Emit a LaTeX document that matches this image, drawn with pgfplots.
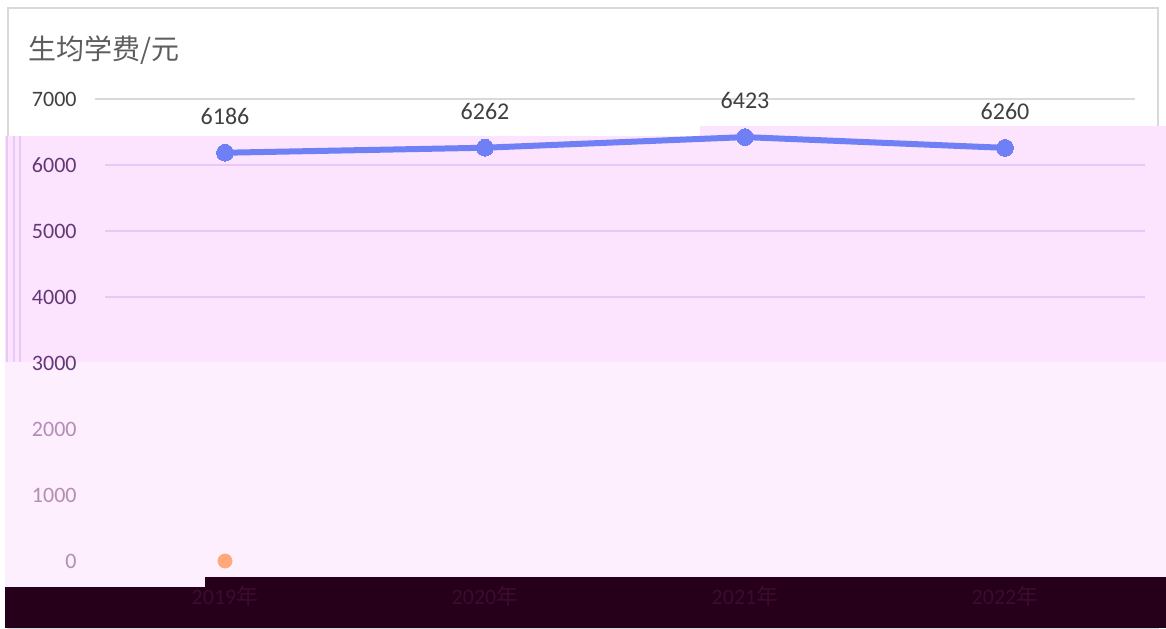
\documentclass[border=0pt]{standalone}
\usepackage{pgfplots}
\pgfplotsset{compat=1.18}
\usepackage{fontspec}
\setmainfont{Carlito}
\newfontfamily\cjk{Noto Sans CJK SC}
\definecolor{lineblue}{RGB}{111,127,245}
\definecolor{dotorange}{RGB}{255,169,122}
\definecolor{pinkA}{RGB}{253,228,254}
\definecolor{pinkB}{RGB}{253,239,253}
\definecolor{darkband}{RGB}{38,0,26}
\definecolor{gridgray}{RGB}{217,217,217}
\definecolor{gridpurple}{RGB}{233,200,247}
\definecolor{txtgray}{RGB}{64,64,64}
\definecolor{txtpurple}{RGB}{100,55,120}
\definecolor{txtlight}{RGB}{180,140,180}
\definecolor{xlab}{RGB}{60,12,48}
\begin{document}
\begin{tikzpicture}[x=1pt,y=1pt]
\path[use as bounding box] (0,0) rectangle (583,314);
\fill[white] (0,0) rectangle (583,314);
\draw[gridgray, line width=1pt] (4,0) rectangle (579,310);
% background overlays
\fill[pinkA] (2.5,133) rectangle (350,246);
\fill[pinkA] (350,133) rectangle (583,251);
\fill[pinkB] (2.5,20.5) rectangle (583,133);
\fill[darkband] (102.5,0) rectangle (583,25.5);
\fill[darkband] (2.5,0) rectangle (102.5,20.5);
\foreach \xx in {3.5,7,10}{\draw[gridpurple, line width=0.8pt] (\xx,133) -- (\xx,246);}
\node[anchor=base west, inner sep=0pt, text=txtgray!85] at (14,284) {\fontsize{14pt}{16pt}\cjk 生均学费/元};
\begin{axis}[
  at={(47.5pt,33.5pt)}, anchor=south west,
  scale only axis, width=520pt, height=231pt,
  xmin=-0.5, xmax=3.5, ymin=0, ymax=7000,
  axis line style={draw=none}, tick style={draw=none},
  clip=false,
  xtick={0,1,2,3},
  xticklabels={2019{\cjk 年},2020{\cjk 年},2021{\cjk 年},2022{\cjk 年}},
  xticklabel style={font=\fontsize{11pt}{13pt}\selectfont, text=xlab, yshift=-9pt},
  ytick={0,1000,...,7000},
  yticklabels={\textcolor{txtlight}{0},\textcolor{txtlight}{1000},\textcolor{txtlight}{2000},\textcolor{txtpurple}{3000},\textcolor{txtpurple}{4000},\textcolor{txtpurple}{5000},\textcolor{txtpurple}{6000},\textcolor{txtgray}{7000}},
  yticklabel style={font=\fontsize{11pt}{13pt}\selectfont, inner xsep=0pt, xshift=-9pt},
  /pgf/number format/assume math mode=true,
]
\draw[gridgray, line width=0.8pt] (axis cs:-0.5,7000) -- (axis cs:3.5,7000);
\foreach \yy in {4000,5000,6000}{
  \edef\tmp{\noexpand\draw[gridpurple, line width=0.8pt] ([xshift=5pt]axis cs:-0.5,\yy) -- ([xshift=5pt]axis cs:3.5,\yy);}\tmp
}
\addplot[lineblue, line width=3pt, mark=*, mark size=4.2pt, mark options={fill=lineblue, draw=lineblue, line width=0pt},
  nodes near coords, point meta=explicit symbolic,
  every node near coord/.append style={font=\fontsize{12pt}{14pt}\selectfont, text=txtgray, anchor=south, inner sep=0pt, yshift=14pt}]
  coordinates {(0,6186)[6186] (1,6262)[6262] (2,6423)[6423] (3,6260)[6260]};
\addplot[only marks, mark=*, mark size=3.5pt, color=dotorange, fill=dotorange, draw=dotorange] coordinates {(0,0)};
\end{axis}
\end{tikzpicture}
\end{document}
